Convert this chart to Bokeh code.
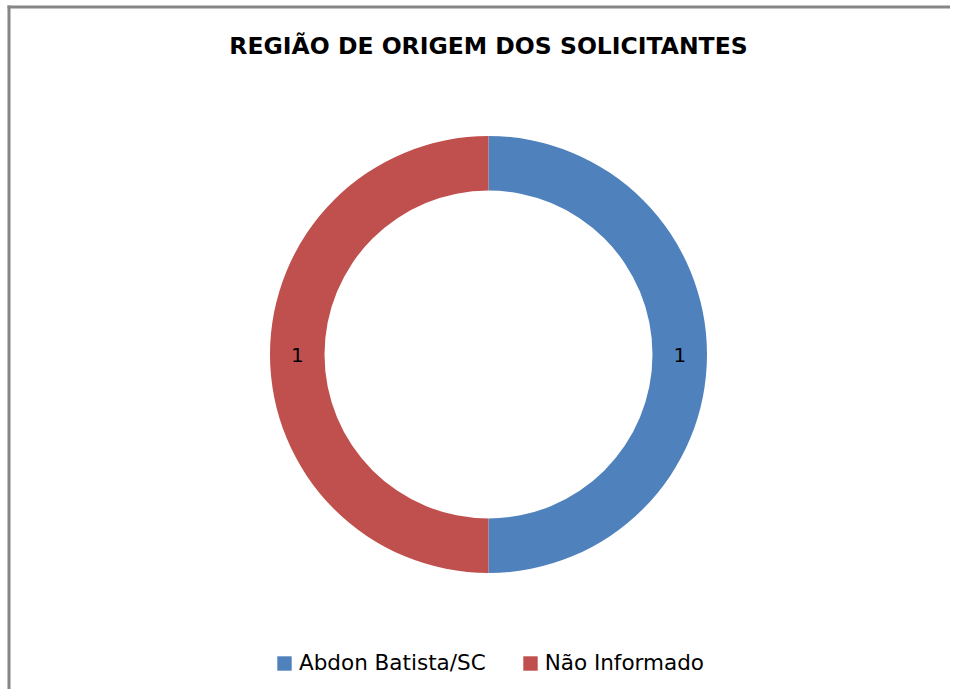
import numpy as np
from bokeh.plotting import figure
from bokeh.models import Range1d, Label, Legend, LegendItem, ColumnDataSource, BoxAnnotation
from bokeh.core.properties import value
from bokeh.embed import file_html
from bokeh.resources import INLINE

# ---- data ----
categories = ["Abdon Batista/SC", "Não Informado"]
counts = [1, 1]
colors = ["#4F81BD", "#C0504D"]
title_text = "REGIÃO DE ORIGEM DOS SOLICITANTES"

W, H = 950, 689
p = figure(width=W, height=H, output_backend="svg", toolbar_location=None,
           x_range=Range1d(0, W), y_range=Range1d(0, H), min_border=0)
p.axis.visible = False
p.grid.visible = False
p.outline_line_color = None
p.background_fill_color = "white"
p.border_fill_color = "white"

# chart-area border (only left and top edges visible in the reference)
border = "#868686"
p.add_layout(BoxAnnotation(left=7, right=10, bottom=-40, top=H - 5,
                           fill_color=border, fill_alpha=1.0, line_color=None))
p.add_layout(BoxAnnotation(left=7, right=W + 40, bottom=H - 8, top=H - 5,
                           fill_color=border, fill_alpha=1.0, line_color=None))

cx, cy = 488, H - 354
r_out, r_in = 218.5, 164

vals = np.array(counts, dtype=float)
total = vals.sum()
cum = np.concatenate([[0], np.cumsum(vals)])
start = np.pi / 2 - 2 * np.pi * cum[:-1] / total
end = np.pi / 2 - 2 * np.pi * cum[1:] / total
mid = (start + end) / 2
r_mid = (r_out + r_in) / 2

src = ColumnDataSource(dict(
    x=[cx] * len(vals), y=[cy] * len(vals), start=start, end=end,
    color=colors, cat=categories,
    lx=cx + r_mid * np.cos(mid), ly=cy + r_mid * np.sin(mid),
    lbl=[str(int(v)) for v in vals]))

r = p.annular_wedge(x="x", y="y", inner_radius=r_in, outer_radius=r_out,
                    inner_radius_units="screen", outer_radius_units="screen",
                    start_angle="start", end_angle="end", direction="clock",
                    fill_color="color", line_color=None, source=src)

p.text(x="lx", y="ly", text="lbl", source=src, text_align="center",
       text_baseline="middle", text_font=value("DejaVu Sans"),
       text_font_size="20px", text_color="black")

p.add_layout(Label(x=488, y=H - 45, x_units="screen", y_units="screen",
                   text=title_text, text_align="center", text_baseline="middle",
                   text_font="DejaVu Sans", text_font_style="bold",
                   text_font_size="23.5px", text_color="black"))

items = [LegendItem(label=c, renderers=[r], index=i) for i, c in enumerate(categories)]
leg = Legend(items=items, orientation="horizontal", location=(275, 14),
             label_text_font="DejaVu Sans", label_text_font_size="21.5px",
             label_text_color="black", glyph_width=18, glyph_height=18,
             label_standoff=6, spacing=35, padding=4, margin=0,
             border_line_color=None, background_fill_alpha=0)
p.add_layout(leg, "center")

open("out.html", "w").write(file_html(p, INLINE))
